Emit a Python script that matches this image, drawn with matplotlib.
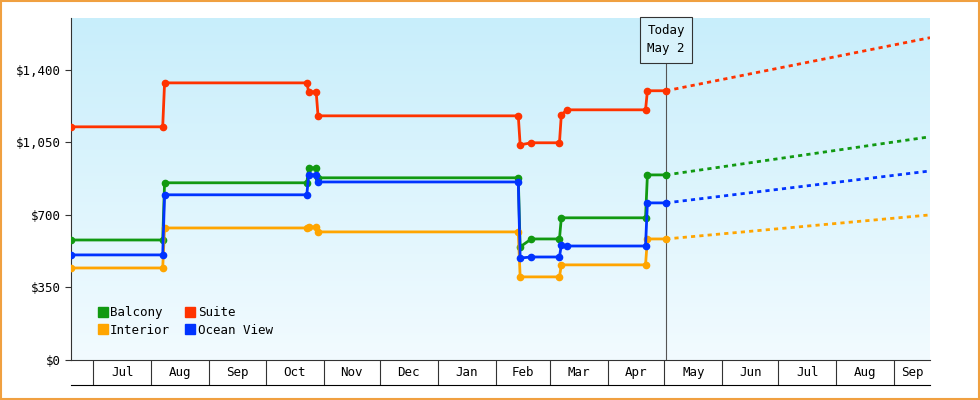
import matplotlib
matplotlib.use("Agg")
import matplotlib.pyplot as plt
import numpy as np
from datetime import datetime as D
from matplotlib.colors import LinearSegmentedColormap

suite_dates = ["2023-06-19","2023-08-07","2023-08-08","2023-10-23","2023-10-24","2023-10-28","2023-10-29","2024-02-13","2024-02-14","2024-02-20","2024-03-06","2024-03-07","2024-03-10","2024-04-21","2024-04-22","2024-05-02"]
suite_vals = [1125,1125,1337,1337,1294,1294,1178,1178,1038,1048,1048,1183,1207,1207,1299,1299]
balc_dates = ["2023-06-19","2023-08-07","2023-08-08","2023-10-23","2023-10-24","2023-10-28","2023-10-29","2024-02-13","2024-02-14","2024-02-20","2024-03-06","2024-03-07","2024-04-21","2024-04-22","2024-05-02"]
balc_vals = [579,579,855,855,927,927,879,879,546,584,584,686,686,893,893]
ocean_dates = ["2023-06-19","2023-08-07","2023-08-08","2023-10-23","2023-10-24","2023-10-28","2023-10-29","2024-02-13","2024-02-14","2024-02-20","2024-03-06","2024-03-07","2024-03-10","2024-04-21","2024-04-22","2024-05-02"]
ocean_vals = [507,507,797,797,893,893,859,859,492,497,497,555,550,550,758,758]
inter_dates = ["2023-06-19","2023-08-07","2023-08-08","2023-10-23","2023-10-24","2023-10-28","2023-10-29","2024-02-13","2024-02-14","2024-03-06","2024-03-07","2024-04-21","2024-04-22","2024-05-02"]
inter_vals = [444,444,637,637,642,642,618,618,401,401,459,459,584,584]
forecast_end = "2024-09-20"
forecast_vals = {"Suite":1555,"Balcony":1077,"Ocean View":912,"Interior":700}
month_labels = ["Jul","Aug","Sep","Oct","Nov","Dec","Jan","Feb","Mar","Apr","May","Jun","Jul","Aug","Sep"]
yticks = [0,350,700,1050,1400]

colors = {"Balcony":"#119911","Suite":"#ff3300","Interior":"#ffa500","Ocean View":"#0033ff"}
series = {"Suite":(suite_dates,suite_vals),"Balcony":(balc_dates,balc_vals),
          "Ocean View":(ocean_dates,ocean_vals),"Interior":(inter_dates,inter_vals)}
mono = "DejaVu Sans Mono"
fs = 9

fig = plt.figure(figsize=(9.8,4), dpi=100)
fig.patch.set_facecolor("white")
fig.patches.append(plt.Rectangle((0.001,0.002),0.998,0.996,transform=fig.transFigure,fill=False,ec="#f0a040",lw=1.5))
x0, x1 = D(2023,6,19), D(2024,9,20)
ax = fig.add_axes([71/980, 40/400, 859/980, 342/400])
ax.set_xlim(x0, x1); ax.set_ylim(0, 1650)
grad = np.linspace(0,1,256).reshape(-1,1)
cm = LinearSegmentedColormap.from_list("g", ["#c8eefb","#f2fbff"])
ax.imshow(grad, aspect="auto", cmap=cm, extent=[0,1,0,1], transform=ax.transAxes, zorder=0)
today = D(2024,5,2)
for name in ["Balcony","Suite","Interior","Ocean View"]:
    ds, vs = series[name]
    dd = [D.fromisoformat(d) for d in ds]
    ax.plot(dd, vs, color=colors[name], lw=2, marker="o", ms=4.5, zorder=3)
    ax.plot([dd[-1], D.fromisoformat(forecast_end)], [vs[-1], forecast_vals[name]], color=colors[name], lw=2, ls=(0,(1.5,1.5)), zorder=3)
ax.axvline(today, color="#555555", lw=0.8, zorder=2)
ax.text(today, 1545, "Today\nMay 2", ha="center", va="center", family=mono, fontsize=fs, linespacing=1.5,
        bbox=dict(boxstyle="square,pad=0.6", fc="#d8f2fb", ec="#333333", lw=0.8), zorder=5)
ax.set_yticks(yticks)
ax.set_yticklabels(["$0" if v==0 else "${:,}".format(v) for v in yticks], family=mono, fontsize=fs)
ax.set_xticks([])
for s in ["top","right"]: ax.spines[s].set_visible(False)
ax.spines["left"].set_color("#333333"); ax.spines["bottom"].set_color("#333333")
ax.tick_params(axis="y", length=4, color="#333333")
h = [plt.Line2D([],[],marker="s",ls="",color=colors[n],ms=7) for n in ["Balcony","Interior","Suite","Ocean View"]]
ax.legend(h, ["Balcony","Interior","Suite","Ocean View"], ncol=2, loc="lower left", frameon=False,
          prop={"family":mono,"size":fs}, handletextpad=0.0, handlelength=1.2, columnspacing=1.0, labelspacing=0.35,
          bbox_to_anchor=(0.015,0.035))

bx = fig.add_axes([71/980, 15/400, 859/980, 25/400])
bx.set_xlim(x0, x1); bx.set_ylim(0,1)
bx.patch.set_alpha(0)
for s in ["top","right","left"]: bx.spines[s].set_visible(False)
bx.set_yticks([]); bx.set_xticks([])
starts = [D(2023+(6+i)//12, (6+i)%12+1, 1) for i in range(16)]
for s in starts:
    if x0 < s < x1: bx.axvline(s, color="#333333", lw=0.8)
for i, lab in enumerate(month_labels):
    a = starts[i]; b = min(starts[i+1], x1)
    mid = a + (b - a)/2
    bx.text(mid, 0.5, lab, ha="center", va="center", family=mono, fontsize=fs)
fig.savefig("out.png", dpi=100)
